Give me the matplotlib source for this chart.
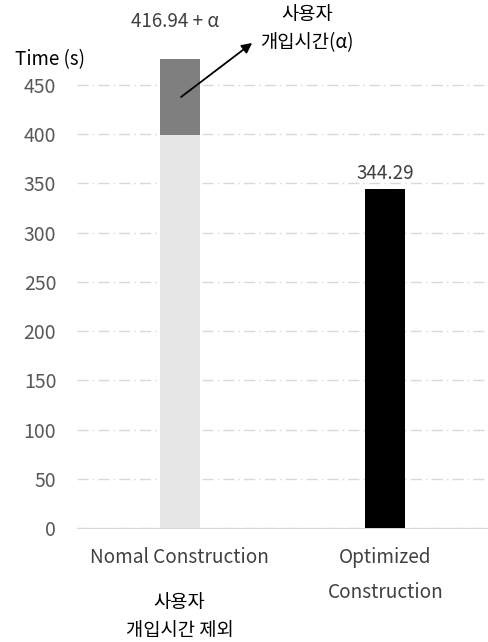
import matplotlib.pyplot as plt

plt.rcParams['font.family'] = ['Noto Sans CJK KR', 'DejaVu Sans']

# data
categories = ['Nomal Construction', 'Optimized\nConstruction']
base_times = [399, 344.29]          # light grey part / optimized bar
user_times = [77, 0]                # user intervention time (alpha)
bar_labels = ['416.94 + α', '344.29']
yticks = [0, 50, 100, 150, 200, 250, 300, 350, 400, 450]

fig = plt.figure(figsize=(4.88, 6.42), dpi=100)
ax = fig.add_axes([0.158, 0.1776, 0.842, 0.736])

x = list(range(len(categories)))
ax.bar(x, base_times, width=0.195, color=['#e6e6e6', '#000000'], zorder=3)
ax.bar(x[0], user_times[0], bottom=base_times[0], width=0.195,
       color='#7f7f7f', zorder=3)

ax.set_xlim(-0.5, 1.5)
ax.set_ylim(0, 480)
ax.set_yticks(yticks)
ax.yaxis.grid(True, color='#d9d9d9', linestyle=(0, (8, 3, 1, 3)), linewidth=1)
ax.set_axisbelow(True)
for s in ['top', 'right', 'left']:
    ax.spines[s].set_visible(False)
ax.spines['bottom'].set_color('#d9d9d9')
ax.tick_params(axis='y', length=0, labelsize=14, labelcolor='#595959', pad=15)
ax.tick_params(axis='x', length=0, labelsize=13.7, labelcolor='#404040', pad=14)
ax.set_xticks(x)
ax.set_xticklabels(categories, linespacing=1.85, va='top')

# value labels
ax.text(x[0] - 0.023, 514, bar_labels[0], fontsize=13.5, color='#404040',
        ha='center', va='center')
ax.text(x[1], base_times[1] + 16, bar_labels[1], fontsize=13.5, color='#404040',
        ha='center', va='center')

fig.text(0.03, 0.907, 'Time (s)', fontsize=13.5, color='#000000', ha='left', va='center')

# arrow to user intervention note
ax.annotate('', xy=(0.352, 492.7), xytext=(0.006, 437.8), annotation_clip=False,
            arrowprops=dict(arrowstyle='-|>', color='#000000', lw=1.3,
                            mutation_scale=15, shrinkA=0, shrinkB=0))
fig.text(0.629, 0.955, '사용자\n개입시간(α)', fontsize=13.5, ha='center', va='center',
         linespacing=1.45)

fig.text(0.368, 0.04, '사용자\n개입시간 제외', fontsize=13.5, ha='center', va='center',
         linespacing=1.45)

fig.savefig('out.png', dpi=100)
